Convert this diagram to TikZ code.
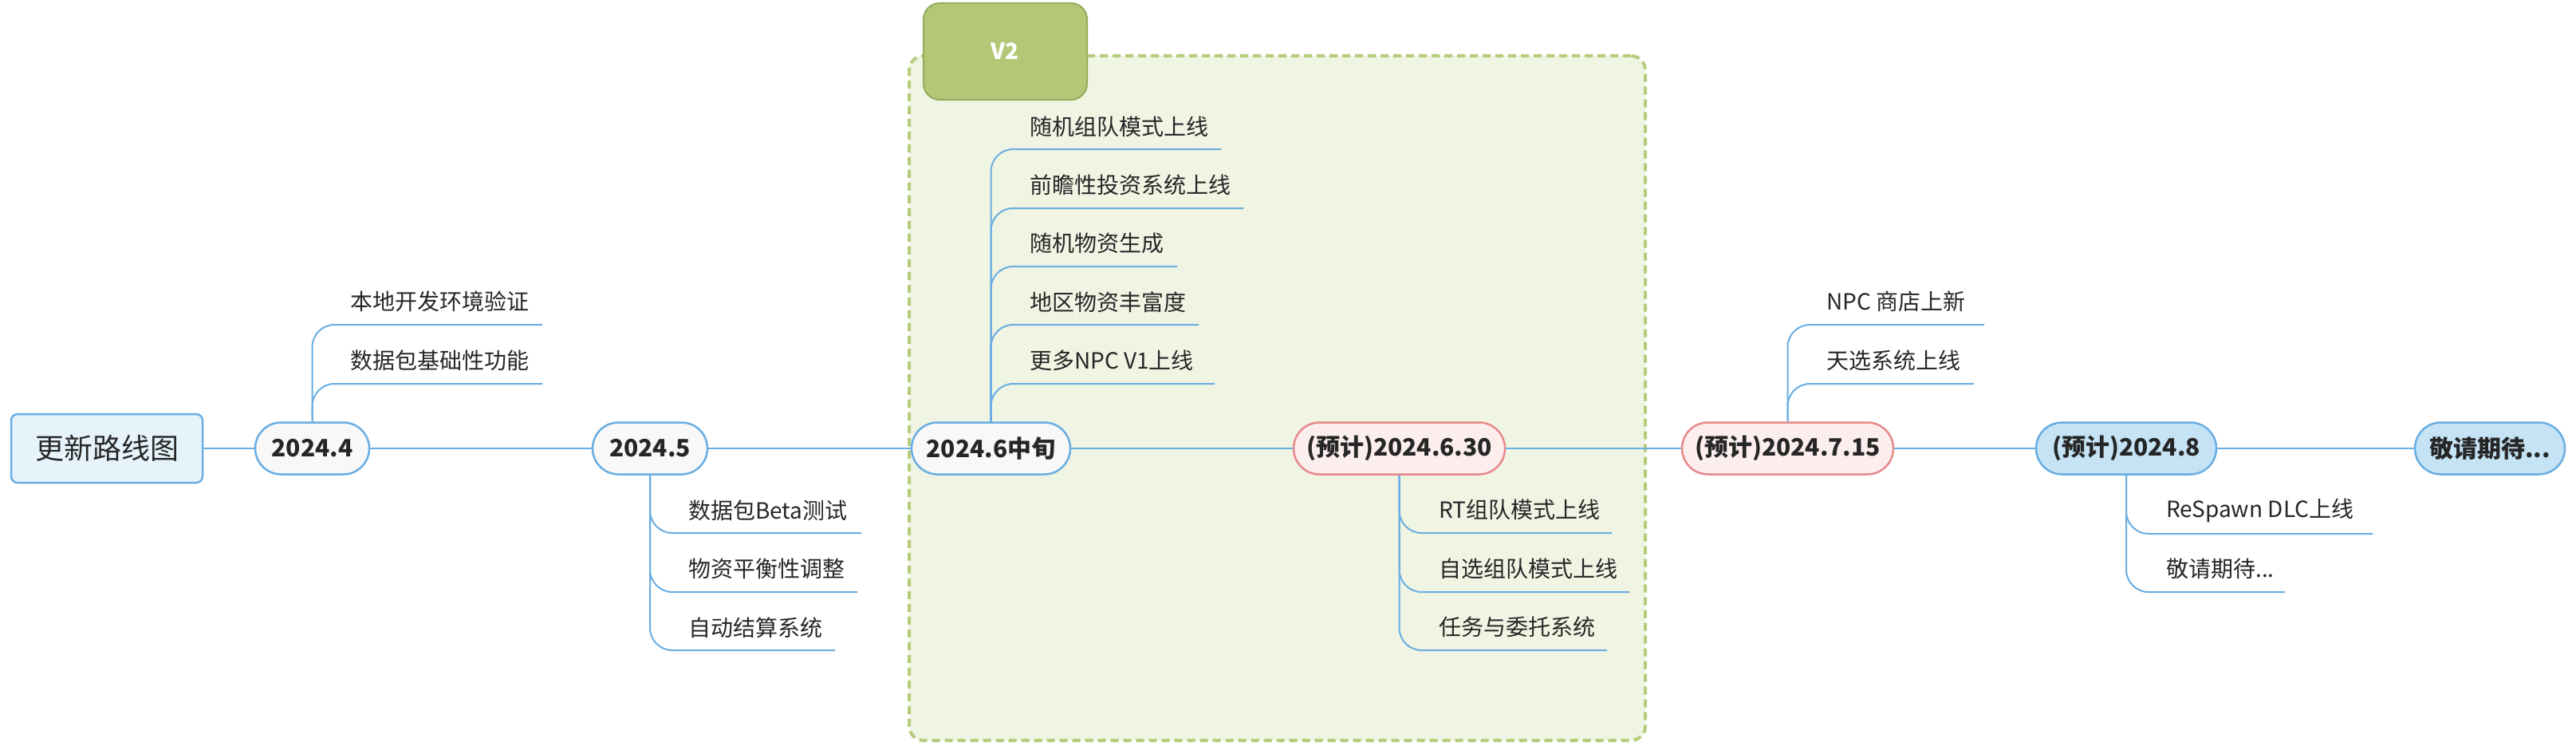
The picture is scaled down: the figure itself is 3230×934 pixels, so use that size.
\documentclass[tikz,border=0pt]{standalone}
\usepackage{fontspec}
\setmainfont{Noto Sans CJK SC}
\definecolor{lblue}{RGB}{106,174,226}
\definecolor{rootfill}{RGB}{230,243,251}
\definecolor{gfill}{RGB}{248,248,248}
\definecolor{pfill}{RGB}{253,238,238}
\definecolor{pline}{RGB}{232,137,138}
\definecolor{bfill}{RGB}{197,227,245}
\definecolor{vfill}{RGB}{179,199,119}
\definecolor{vline}{RGB}{147,173,91}
\definecolor{zfill}{RGB}{239,244,227}
\definecolor{zline}{RGB}{181,204,122}
\definecolor{txt}{RGB}{38,38,38}
\begin{document}
\begin{tikzpicture}[x=1pt,y=-1pt,
  pill/.style={draw=lblue, line width=2.5pt, rounded corners=32.5pt, minimum height=65pt,
    inner sep=0pt, font=\fontsize{30}{36}\selectfont\bfseries, text=txt},
  gpill/.style={pill, fill=gfill},
  ppill/.style={pill, fill=pfill, draw=pline},
  bpill/.style={pill, fill=bfill},
  leaf/.style={anchor=west, inner sep=0pt, font=\fontsize{28}{34}\selectfont, text=txt},
  branch/.style={draw=lblue, line width=2pt, rounded corners=28pt},
  mainline/.style={draw=lblue, line width=2.5pt},
  zonebox/.style={fill=zfill, draw=zline, line width=4pt, dash pattern=on 10pt off 6pt, rounded corners=18pt, inner sep=0pt},
  tagbox/.style={fill=vfill, draw=vline, line width=2pt, rounded corners=20pt, inner sep=0pt,
    font=\fontsize{28}{34}\selectfont\bfseries, text=white}]
\useasboundingbox (0,0) rectangle (3230,934);
\fill[white] (0,0) rectangle (3230,934);

% V2 zone
\node[zonebox, minimum width=923pt, minimum height=858pt] (zone) at (1601.5,499) {};
\node[tagbox, minimum width=205pt, minimum height=121pt] (v2) at (1260.5,64.5) {V2};

% main nodes
\node[draw=lblue, fill=rootfill, line width=2.5pt, rounded corners=8pt, minimum width=240pt,
  minimum height=86pt, inner sep=0pt, font=\fontsize{36}{42}\selectfont, text=txt] (root) at (134,562) {更新路线图};
\node[gpill, minimum width=143pt] (n1) at (391.5,562) {2024.4};
\node[gpill, minimum width=144pt] (n2) at (815,562) {2024.5};
\node[gpill, minimum width=199pt] (n3) at (1242.5,562) {2024.6中旬};
\node[ppill, minimum width=265pt] (n4) at (1754.5,562) {(预计)2024.6.30};
\node[ppill, minimum width=265pt] (n5) at (2241.5,562) {(预计)2024.7.15};
\node[bpill, minimum width=226pt] (n6) at (2666,562) {(预计)2024.8};
\node[bpill, minimum width=188pt] (n7) at (3122,562) {敬请期待...};

\draw[mainline] (root.east) -- (n1.west);
\draw[mainline] (n1.east) -- (n2.west);
\draw[mainline] (n2.east) -- (n3.west);
\draw[mainline] (n3.east) -- (n4.west);
\draw[mainline] (n4.east) -- (n5.west);
\draw[mainline] (n5.east) -- (n6.west);
\draw[mainline] (n6.east) -- (n7.west);

% 2024.4 children
\node[leaf] (k11) at (439,378) {本地开发环境验证};
\node[leaf] (k12) at (439,452) {数据包基础性功能};
\coordinate (e11) at (680,407);
\coordinate (e12) at (680,481);
\draw[branch] (n1.north) |- (e11);
\draw[branch] (n1.north) |- (e12);

% 2024.5 children
\node[leaf] (k21) at (863,640) {数据包Beta测试};
\node[leaf] (k22) at (863,713) {物资平衡性调整};
\node[leaf] (k23) at (863,787) {自动结算系统};
\coordinate (e21) at (1080,668);
\coordinate (e22) at (1075,742);
\coordinate (e23) at (1047,815);
\draw[branch] (n2.south) |- (e21);
\draw[branch] (n2.south) |- (e22);
\draw[branch] (n2.south) |- (e23);

% 2024.6 children
\node[leaf] (k31) at (1291,159) {随机组队模式上线};
\node[leaf] (k32) at (1291,232) {前瞻性投资系统上线};
\node[leaf] (k33) at (1291,305) {随机物资生成};
\node[leaf] (k34) at (1291,379) {地区物资丰富度};
\node[leaf] (k35) at (1291,452) {更多NPC V1上线};
\coordinate (e31) at (1531,187);
\coordinate (e32) at (1559,261);
\coordinate (e33) at (1476,334);
\coordinate (e34) at (1503,407);
\coordinate (e35) at (1523,481);
\draw[branch] (n3.north) |- (e31);
\draw[branch] (n3.north) |- (e32);
\draw[branch] (n3.north) |- (e33);
\draw[branch] (n3.north) |- (e34);
\draw[branch] (n3.north) |- (e35);

% 2024.6.30 children
\node[leaf] (k41) at (1804,639) {RT组队模式上线};
\node[leaf] (k42) at (1804,713) {自选组队模式上线};
\node[leaf] (k43) at (1804,786) {任务与委托系统};
\coordinate (e41) at (2021,668);
\coordinate (e42) at (2043,742);
\coordinate (e43) at (2015,815);
\draw[branch] (n4.south) |- (e41);
\draw[branch] (n4.south) |- (e42);
\draw[branch] (n4.south) |- (e43);

% 2024.7.15 children
\node[leaf] (k51) at (2290,378) {NPC 商店上新};
\node[leaf] (k52) at (2290,452) {天选系统上线};
\coordinate (e51) at (2488,407);
\coordinate (e52) at (2475,481);
\draw[branch] (n5.north) |- (e51);
\draw[branch] (n5.north) |- (e52);

% 2024.8 children
\node[leaf] (k61) at (2716,640) {ReSpawn DLC上线};
\node[leaf] (k62) at (2716,713) {敬请期待...};
\coordinate (e61) at (2975,669);
\coordinate (e62) at (2865,742);
\draw[branch] (n6.south) |- (e61);
\draw[branch] (n6.south) |- (e62);
\end{tikzpicture}
\end{document}
